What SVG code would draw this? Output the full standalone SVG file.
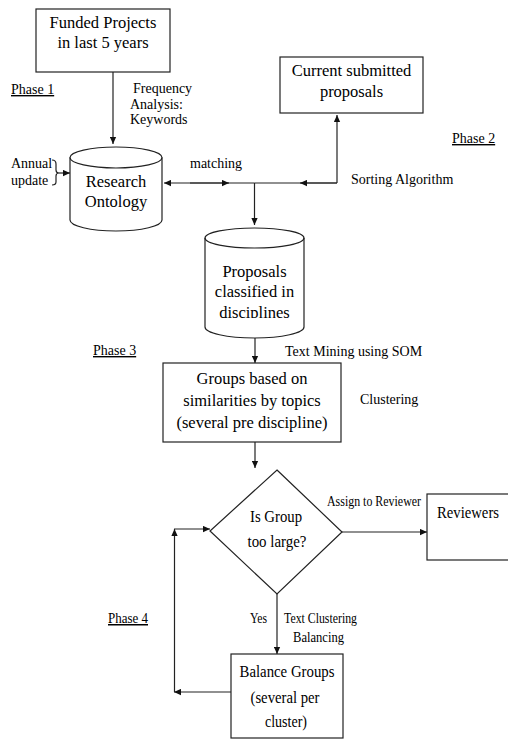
<svg xmlns="http://www.w3.org/2000/svg" width="508" height="740" viewBox="0 0 508 740">
<defs>
<style>
.box{fill:#fff;stroke:#222;stroke-width:1.2}
.ln{fill:none;stroke:#222;stroke-width:1.2}
.t{font-family:"Liberation Serif","Times New Roman",serif;font-size:16.5px;fill:#000}
.s{font-family:"Liberation Serif","Times New Roman",serif;font-size:14px;fill:#000}
.c{text-anchor:middle}
.u{text-decoration:underline}
</style>
<marker id="ah" viewBox="0 0 10 10" refX="10" refY="5" markerWidth="8" markerHeight="7" markerUnits="userSpaceOnUse" orient="auto">
<path d="M0,0.5 L10,5 L0,9.5 z" fill="#111"/>
</marker>
<clipPath id="pc"><rect x="200" y="240" width="110" height="78"/></clipPath>
</defs>
<rect width="508" height="740" fill="#fff"/>

<g id="connectors">
<path class="ln" d="M113,72 V144" marker-end="url(#ah)"/>
<path class="ln" d="M52,160 Q56,160 56,164 L56,170 Q56,173 59,173 Q56,173 56,176 L56,182 Q56,185 52,185"/>
<path class="ln" d="M59,173 H70" marker-end="url(#ah)"/>
<path class="ln" d="M254.5,183 H164" marker-end="url(#ah)"/>
<path class="ln" d="M190,183 H229" marker-end="url(#ah)"/>
<path class="ln" d="M337,183 H254.5"/>
<path class="ln" d="M337,183 H300" marker-end="url(#ah)"/>
<path class="ln" d="M337,183 V115" marker-end="url(#ah)"/>
<path class="ln" d="M254.5,183 V225" marker-end="url(#ah)"/>
<path class="ln" d="M255,338 V363" marker-end="url(#ah)"/>
<path class="ln" d="M255,442 V468" marker-end="url(#ah)"/>
<path class="ln" d="M342,532 H427" marker-end="url(#ah)"/>
<path class="ln" d="M277,594 V654" marker-end="url(#ah)"/>
<path class="ln" d="M231,692 H174" marker-end="url(#ah)"/>
<path class="ln" d="M174.5,692 V529" marker-end="url(#ah)"/>
<path class="ln" d="M174,529 H210" marker-end="url(#ah)"/>
</g>

<g id="labels">
<text class="s u" x="11" y="94">Phase 1</text>
<text class="s" x="133" y="93">Frequency</text>
<text class="s" x="130" y="109">Analysis:</text>
<text class="s" x="130" y="124">Keywords</text>
<text class="s" x="11" y="168">Annual</text>
<text class="s" x="11" y="185">update</text>
<text class="s" x="190" y="168">matching</text>
<text class="s u" x="452" y="143">Phase 2</text>
<text class="s" x="351" y="184">Sorting Algorithm</text>
<text class="s u" x="93" y="355">Phase 3</text>
<text class="s" x="285" y="356">Text Mining using SOM</text>
<text class="s" x="360" y="404">Clustering</text>
<text class="s" x="327" y="506" textLength="94" lengthAdjust="spacingAndGlyphs" style="font-size:15px">Assign to Reviewer</text>
<text class="s u" x="108" y="623" textLength="40" lengthAdjust="spacingAndGlyphs" style="font-size:15px">Phase 4</text>
<text class="s" x="250" y="623" textLength="17" lengthAdjust="spacingAndGlyphs" style="font-size:15px">Yes</text>
<text class="s" x="284" y="623" textLength="73" lengthAdjust="spacingAndGlyphs" style="font-size:15px">Text Clustering</text>
<text class="s" x="293" y="642" textLength="51" lengthAdjust="spacingAndGlyphs" style="font-size:15px">Balancing</text>
</g>

<g id="funded">
<rect class="box" x="36" y="9" width="134" height="63"/>
<text class="t c" x="103" y="28">Funded Projects</text>
<text class="t c" x="103" y="48">in last 5 years</text>
</g>

<g id="current">
<rect class="box" x="280" y="57" width="143" height="56"/>
<text class="t c" x="351.5" y="76">Current submitted</text>
<text class="t c" x="351.5" y="97">proposals</text>
</g>

<g id="ontology">
<path class="box" d="M70,157.5 A46,10.5 0 0 1 162,157.5 V220 A46,11 0 0 1 70,220 Z"/>
<path class="ln" d="M70,157.5 A46,10.5 0 0 0 162,157.5"/>
<text class="t c" x="116" y="187">Research</text>
<text class="t c" x="116" y="207">Ontology</text>
</g>

<g id="proposals">
<path class="box" d="M205,238 A49.5,10 0 0 1 304,238 V327 A49.5,11 0 0 1 205,327 Z"/>
<path class="ln" d="M205,238 A49.5,10 0 0 0 304,238"/>
<text class="t c" x="254.5" y="277">Proposals</text>
<text class="t c" x="254.5" y="297">classified in</text>
<text class="t c" x="254.5" y="318" clip-path="url(#pc)">disciplines</text>
</g>

<g id="groups">
<rect class="box" x="163" y="363" width="178" height="79"/>
<text class="t c" x="252" y="384">Groups based on</text>
<text class="t c" x="252" y="406">similarities by topics</text>
<text class="t c" x="252" y="428">(several pre discipline)</text>
</g>

<g id="decision">
<path class="box" d="M277,470 L342,532 L277,594 L210,531 Z"/>
<text class="t c" x="276" y="522" textLength="52" lengthAdjust="spacingAndGlyphs" style="font-size:17px">Is Group</text>
<text class="t c" x="277" y="547" textLength="59" lengthAdjust="spacingAndGlyphs" style="font-size:17px">too large?</text>
</g>

<g id="reviewers">
<rect class="box" x="427" y="494" width="100" height="66"/>
<text class="t" x="437" y="518" textLength="62" lengthAdjust="spacingAndGlyphs" style="font-size:17px">Reviewers</text>
</g>

<g id="balance">
<rect class="box" x="231" y="654" width="112" height="84"/>
<text class="t c" x="287" y="677" textLength="95" lengthAdjust="spacingAndGlyphs" style="font-size:17px">Balance Groups</text>
<text class="t c" x="285" y="703" textLength="69" lengthAdjust="spacingAndGlyphs" style="font-size:17px">(several per</text>
<text class="t c" x="286" y="727" textLength="42" lengthAdjust="spacingAndGlyphs" style="font-size:17px">cluster)</text>
</g>
</svg>
